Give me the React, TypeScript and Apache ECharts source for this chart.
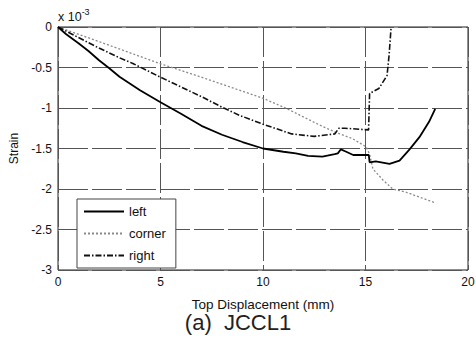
import React, { useEffect, useRef } from "react";
import * as echarts from "echarts";

const xTicks = [0, 5, 10, 15, 20];
const yTicks = [0, -0.5, -1, -1.5, -2, -2.5, -3];

const leftX = [0, 0.4, 1, 1.5, 2, 2.5, 3, 4, 5, 6, 7, 8, 9, 10, 11, 11.6, 12.2, 12.9, 13.5, 13.65, 13.8, 14.06, 14.4, 15.16, 15.2, 15.5, 16.17, 16.66, 17.15, 17.63, 18.1, 18.4];
const leftY = [0, -0.09, -0.2, -0.3, -0.41, -0.51, -0.615, -0.78, -0.93, -1.07, -1.22, -1.33, -1.42, -1.5, -1.54, -1.56, -1.59, -1.6, -1.57, -1.56, -1.51, -1.54, -1.58, -1.58, -1.67, -1.66, -1.69, -1.65, -1.51, -1.36, -1.17, -1.01];

const cornerX = [0, 2, 4.95, 7, 8.85, 10, 11.1, 12.76, 13.54, 14.38, 15.03, 15.2, 15.36, 15.85, 16.33, 16.98, 17.63, 18.4];
const cornerY = [0, -0.18, -0.45, -0.62, -0.78, -0.88, -1.0, -1.21, -1.3, -1.38, -1.48, -1.57, -1.75, -1.89, -2.0, -2.04, -2.1, -2.17];

const rightX = [0, 1, 2, 3, 3.65, 5, 6, 7, 8, 8.85, 10, 11.4, 12.5, 13.5, 13.7, 14, 15.15, 15.2, 15.65, 16.05, 16.15, 16.25];
const rightY = [0, -0.13, -0.26, -0.38, -0.45, -0.62, -0.74, -0.86, -0.99, -1.09, -1.2, -1.32, -1.35, -1.32, -1.25, -1.25, -1.27, -0.82, -0.76, -0.6, -0.35, 0];

const seriesNames = ["left", "corner", "right"];

const zip = (xs: number[], ys: number[]) => xs.map((x, i) => [x, ys[i]]);

export default function App() {
  const ref = useRef<HTMLDivElement>(null);
  useEffect(() => {
    if (!ref.current) return;
    const chart = echarts.init(ref.current, null, { renderer: "svg" });
    const font = "Liberation Sans, Arial, sans-serif";
    chart.setOption({
      animation: false,
      backgroundColor: "#fff",
      textStyle: { fontFamily: font },
      grid: {
        left: 58,
        right: 8,
        top: 27,
        bottom: 73,
        containLabel: false,
        outerBoundsMode: "none",
        show: true,
        borderColor: "#222",
        borderWidth: 1,
        backgroundColor: "transparent",
      },
      xAxis: {
        type: "value",
        min: xTicks[0],
        max: xTicks[xTicks.length - 1],
        interval: 5,
        axisLine: { show: false },
        axisTick: { show: false },
        axisLabel: { color: "#111", fontSize: 12, margin: 6, fontFamily: font },
        splitLine: { show: true, lineStyle: { color: "#555", width: 1, type: [30, 4] } },
        name: "Top Displacement (mm)",
        nameLocation: "middle",
        nameGap: 27,
        nameTextStyle: { color: "#111", fontSize: 13.5, fontFamily: font },
      },
      yAxis: {
        type: "value",
        min: yTicks[yTicks.length - 1],
        max: yTicks[0],
        interval: 0.5,
        axisLine: { show: false },
        axisTick: { show: false },
        axisLabel: { color: "#111", fontSize: 12, margin: 6, fontFamily: font },
        splitLine: { show: true, lineStyle: { color: "#555", width: 1, type: [30, 4] } },
        name: "Strain",
        nameLocation: "middle",
        nameGap: 38,
        nameRotate: 90,
        nameTextStyle: { color: "#111", fontSize: 12, fontFamily: font },
      },
      legend: {
        orient: "vertical",
        left: 77,
        top: 199,
        data: seriesNames,
        itemWidth: 40,
        itemHeight: 10,
        itemGap: 9,
        padding: [6, 10, 6, 6],
        borderColor: "#444",
        borderWidth: 1,
        backgroundColor: "#fff",
        itemStyle: { opacity: 0 },
        textStyle: { color: "#111", fontSize: 13, fontFamily: font },
      },
      graphic: [
        {
          type: "text",
          left: 58,
          top: 7,
          style: {
            text: "{a|x 10}{b|-3}",
            rich: {
              a: { fontSize: 12.5, fontFamily: font, fill: "#111", verticalAlign: "bottom", lineHeight: 16 },
              b: { fontSize: 9, fontFamily: font, fill: "#111", verticalAlign: "top", lineHeight: 10 },
            },
          },
        },
        {
          type: "text",
          left: "center",
          top: 311,
          style: {
            text: "(a)  JCCL1",
            fontSize: 22,
            fontFamily: font,
            fill: "#222",
          },
        },
      ],
      series: [
        {
          name: seriesNames[0],
          type: "line",
          data: zip(leftX, leftY),
          symbol: "none",
          lineStyle: { color: "#000", width: 1.8, type: "solid" },
          itemStyle: { color: "#000" },
          z: 4,
        },
        {
          name: seriesNames[1],
          type: "line",
          data: zip(cornerX, cornerY),
          symbol: "none",
          lineStyle: { color: "#8a8a8a", width: 1.3, type: [2, 2] },
          itemStyle: { color: "#8a8a8a" },
          z: 3,
        },
        {
          name: seriesNames[2],
          type: "line",
          data: zip(rightX, rightY),
          symbol: "none",
          lineStyle: { color: "#111", width: 1.6, type: [6, 2, 1.5, 2] },
          itemStyle: { color: "#111" },
          z: 3,
        },
      ],
    });
    return () => chart.dispose();
  }, []);
  return <div ref={ref} style={{ width: 476, height: 343, position: "absolute", left: 0, top: 0 }} />;
}
